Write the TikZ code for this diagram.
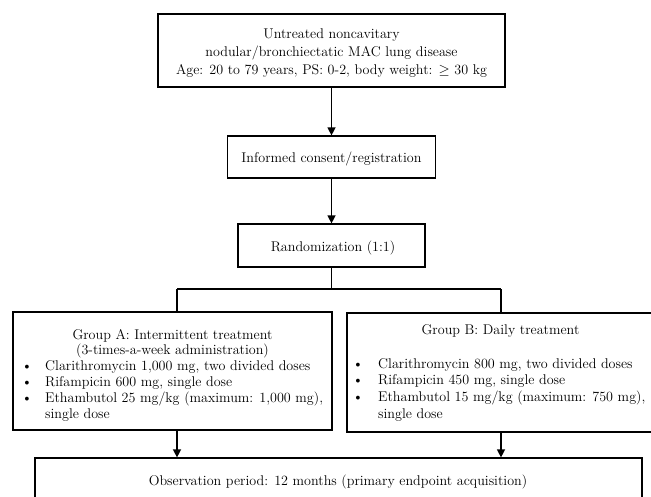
\documentclass[tikz,border=0pt]{standalone}
\usetikzlibrary{arrows.meta}
\begin{document}
\begin{tikzpicture}[x=1pt,y=-1pt,
  box/.style={draw=black,line width=1.2pt,inner sep=0pt,fill=none},
  txt/.style={inner sep=0pt,font=\fontsize{14.1}{16}\selectfont},
  conn/.style={line width=1.3pt},
  arr/.style={line width=1.3pt,-{Triangle[length=8pt,width=8pt]}}]
\useasboundingbox (0,0) rectangle (651,496);
\clip (0,0) rectangle (651,496);
% boxes
\node[box,minimum width=347pt,minimum height=73pt] (top) at (331.5,50.5) {};
\node[box,minimum width=208pt,minimum height=42pt] (inf) at (331.5,157) {};
\node[box,minimum width=187pt,minimum height=43pt] (rnd) at (331.5,245.5) {};
\node[box,minimum width=319pt,minimum height=118pt] (ga) at (172.5,371) {};
\node[box,minimum width=353pt,minimum height=119pt] (gb) at (523.5,372.5) {};
\node[box,minimum width=607pt,minimum height=62pt] (obs) at (338.5,489) {};
% texts
\node[txt,anchor=base] (t1) at (331.5,38) {Untreated noncavitary};
\node[txt,anchor=base] (t2) at (331.5,56) {nodular/bronchiectatic MAC lung disease};
\node[txt,anchor=base] (t3) at (331.5,74) {Age: 20 to 79 years, PS: 0-2, body weight: $\geq$ 30 kg};
\node[txt,anchor=base] (ti) at (331.5,162) {Informed consent/registration};
\node[txt,anchor=base] (tr) at (333,251) {Randomization (1:1)};
\node[txt,anchor=base] (ta1) at (172.5,339) {Group A: Intermittent treatment};
\node[txt,anchor=base] (ta2) at (172.5,354) {(3-times-a-week administration)};
\node[txt,anchor=base] (ba1) at (27,370) {\textbullet};
\node[txt,anchor=base west] (la1) at (45,370) {Clarithromycin 1,000 mg, two divided doses};
\node[txt,anchor=base] (ba2) at (27,386) {\textbullet};
\node[txt,anchor=base west] (la2) at (45,386) {Rifampicin 600 mg, single dose};
\node[txt,anchor=base] (ba3) at (27,402) {\textbullet};
\node[txt,anchor=base west] (la3) at (45,402) {Ethambutol 25 mg/kg (maximum: 1,000 mg),};
\node[txt,anchor=base west] (la4) at (45,418) {single dose};
\node[txt,anchor=base] (tb1) at (500.5,334) {Group B: Daily treatment};
\node[txt,anchor=base] (bb1) at (358,368) {\textbullet};
\node[txt,anchor=base west] (lb1) at (378,368) {Clarithromycin 800 mg, two divided doses};
\node[txt,anchor=base] (bb2) at (358,384) {\textbullet};
\node[txt,anchor=base west] (lb2) at (378,384) {Rifampicin 450 mg, single dose};
\node[txt,anchor=base] (bb3) at (358,401) {\textbullet};
\node[txt,anchor=base west] (lb3) at (378,401) {Ethambutol 15 mg/kg (maximum: 750 mg),};
\node[txt,anchor=base west] (lb4) at (378,418) {single dose};
\node[txt,anchor=base] (to) at (338,485) {Observation period: 12 months (primary endpoint acquisition)};
% connectors
\coordinate (bar) at (331.5,289);
\coordinate (ja) at (177,312);
\coordinate (jb) at (501,313);
\draw[arr] (top.south) -- (inf.north);
\draw[arr] (inf.south) -- (rnd.north);
\draw[conn] (rnd.south) -- (bar);
\draw[conn] (ja |- bar) -- (jb |- bar);
\draw[conn] (ja |- bar) -- (ja);
\draw[conn] (jb |- bar) -- (jb);
\draw[arr] (ja |- ga.south) -- (ja |- obs.north);
\draw[arr] (jb |- gb.south) -- (jb |- obs.north);
\end{tikzpicture}
\end{document}
